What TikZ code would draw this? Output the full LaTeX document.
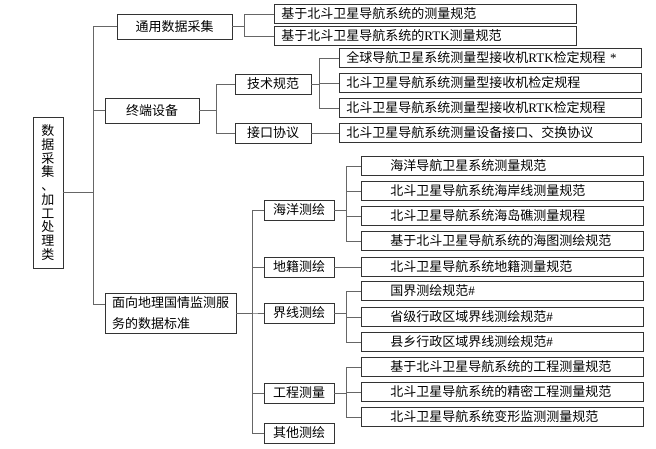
\documentclass[tikz,border=0pt]{standalone}
\usepackage{fontspec}
\setmainfont{Liberation Serif}
\newfontfamily\cjk{Noto Sans CJK SC}
\usetikzlibrary{positioning}
\tikzset{
    link/.style =   {draw=black!60,
                    line width=0.8pt},
    root/.style =   {rectangle,
                    fill=white,
                    draw=black!80,
                    text=black,
                    line width=0.9pt,
                    inner sep=0pt,
                    minimum width=30pt,
                    minimum height=151pt,
                    align=center,
                    font=\cjk\fontsize{13}{13.7}\selectfont},
    cat/.style =    {rectangle,
                    fill=white,
                    draw=black!80,
                    text=black,
                    line width=0.9pt,
                    inner sep=0pt,
                    minimum height=25pt,
                    font=\cjk\fontsize{13}{21}\selectfont},
    sub/.style =    {rectangle,
                    fill=white,
                    draw=black!80,
                    text=black,
                    line width=0.9pt,
                    inner sep=0pt,
                    minimum width=#1,
                    minimum height=20pt,
                    font=\cjk\fontsize{13}{15}\selectfont},
    sub/.default=70pt,
    spec/.style =   {rectangle,
                    fill=white,
                    draw=black!80,
                    text=black,
                    line width=0.9pt,
                    anchor=west,
                    inner ysep=0pt,
                    inner xsep=7pt,
                    text width=288pt,
                    minimum height=19pt,
                    align=left,
                    font=\cjk\fontsize{13}{15}\selectfont},
    leaf/.style =   {spec,
                    inner xsep=29pt,
                    text width=224pt}
}
\begin{document}
\begin{tikzpicture}[x=1pt,y=-1pt]
    \useasboundingbox (0,0) rectangle (656,448);

    \node[root]             (root)   at (48,192.5)  {数\\据\\采\\集\\、\\加\\工\\处\\理\\类};
    \node[cat,minimum width=115pt] (gen)  at (174.5,26.5) {通用数据采集};
    \node[cat,minimum width=94pt]  (term) at (152,110.5)  {终端设备};
    \node[cat,minimum height=40pt,align=left,text width=117pt,inner xsep=7pt] (geo) at (170.5,313) {面向地理国情监测服\\务的数据标准};

    \node[spec]  (g1) at (274,14)  {基于北斗卫星导航系统的测量规范};
    \node[spec]  (g2) at (274,36)  {基于北斗卫星导航系统的\textrm{RTK}测量规范};

    \node[sub=76pt] (tech) at (273,84)  {技术规范};
    \node[sub=76pt] (port) at (273,133) {接口协议};
    \node[spec]  (t1) at (339,58)  {全球导航卫星系统测量型接收机\textrm{RTK}检定规程\textrm{ *}};
    \node[spec]  (t2) at (339,83)  {北斗卫星导航系统测量型接收机检定规程};
    \node[spec]  (t3) at (339,108) {北斗卫星导航系统测量型接收机\textrm{RTK}检定规程};
    \node[spec]  (t4) at (339,133) {北斗卫星导航系统测量设备接口、交换协议};

    \node[sub]   (ocean)  at (299,210) {海洋测绘};
    \node[sub]   (land)   at (299,267) {地籍测绘};
    \node[sub]   (border) at (299,313) {界线测绘};
    \node[sub]   (eng)    at (299,393) {工程测量};
    \node[sub]   (other)  at (299,433) {其他测绘};

    \node[leaf]  (o1) at (361,166) {海洋导航卫星系统测量规范};
    \node[leaf]  (o2) at (361,191) {北斗卫星导航系统海岸线测量规范};
    \node[leaf]  (o3) at (361,216) {北斗卫星导航系统海岛礁测量规程};
    \node[leaf]  (o4) at (361,241) {基于北斗卫星导航系统的海图测绘规范};
    \node[leaf]  (c1) at (361,267) {北斗卫星导航系统地籍测量规范};
    \node[leaf]  (b1) at (361,291) {国界测绘规范\textrm{\#}};
    \node[leaf]  (b2) at (361,317) {省级行政区域界线测绘规范\textrm{\#}};
    \node[leaf]  (b3) at (361,342) {县乡行政区域界线测绘规范\textrm{\#}};
    \node[leaf]  (e1) at (361,367) {基于北斗卫星导航系统的工程测量规范};
    \node[leaf]  (e2) at (361,392) {北斗卫星导航系统的精密工程测量规范};
    \node[leaf]  (e3) at (361,417) {北斗卫星导航系统变形监测测量规范};

    \coordinate (hub) at (93,192.5);
    \draw[link] (root) -- (hub);
    \draw[link] (hub) |- (gen);
    \draw[link] (hub) |- (term);
    \draw[link] (hub) |- ([yshift=9pt]geo.west);

    \draw[link] (gen.east) -- ++(12,0) |- (g1);
    \draw[link] (gen.east) -- ++(12,0) |- (g2);

    \draw[link] (term.east) -- ++(17,0) |- (tech);
    \draw[link] (term.east) -- ++(17,0) |- (port);
    \draw[link] (tech.east) -- ++(8,0) |- (t1);
    \draw[link] (tech.east) -- ++(8,0) |- (t2);
    \draw[link] (tech.east) -- ++(8,0) |- (t3);
    \draw[link] (port) -- (t4);

    \draw[link] (geo.east) -- ++(16,0) |- (ocean);
    \draw[link] (geo.east) -- ++(16,0) |- (land);
    \draw[link] (geo.east) -- ++(16,0) |- (border);
    \draw[link] (geo.east) -- ++(16,0) |- (eng);
    \draw[link] (geo.east) -- ++(16,0) |- (other);

    \draw[link] (ocean.east) -- ++(12,0) |- (o1);
    \draw[link] (ocean.east) -- ++(12,0) |- (o2);
    \draw[link] (ocean.east) -- ++(12,0) |- (o3);
    \draw[link] (ocean.east) -- ++(12,0) |- (o4);
    \draw[link] (land) -- (c1);
    \draw[link] (border.east) -- ++(12,0) |- (b1);
    \draw[link] (border.east) -- ++(12,0) |- (b2);
    \draw[link] (border.east) -- ++(12,0) |- (b3);
    \draw[link] (eng.east) -- ++(12,0) |- (e1);
    \draw[link] (eng.east) -- ++(12,0) |- (e2);
    \draw[link] (eng.east) -- ++(12,0) |- (e3);
\end{tikzpicture}
\end{document}
